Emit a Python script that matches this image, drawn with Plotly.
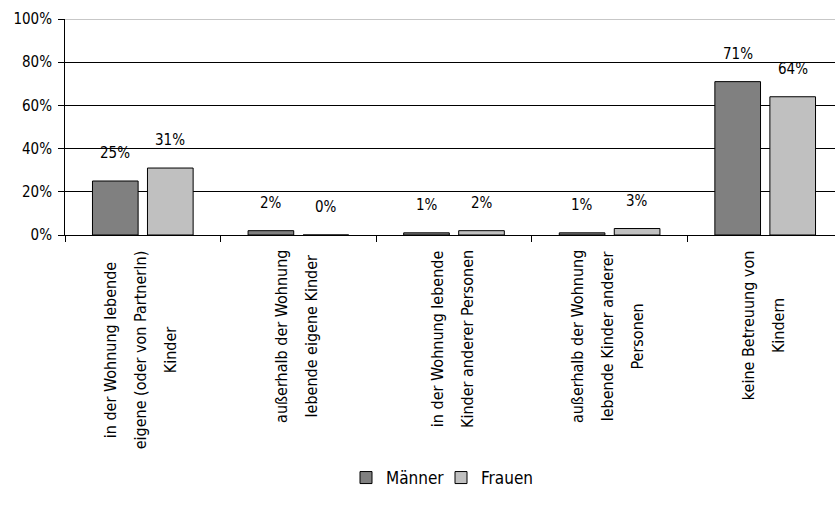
import plotly.graph_objects as go

categories = [
    "in der Wohnung lebende<br>eigene (oder von PartnerIn)<br>Kinder",
    "außerhalb der Wohnung<br>lebende eigene Kinder",
    "in der Wohnung lebende<br>Kinder anderer Personen",
    "außerhalb der Wohnung<br>lebende Kinder anderer<br>Personen",
    "keine Betreuung von<br>Kindern",
]
maenner = [25, 2, 1, 1, 71]
frauen = [31, 0, 2, 3, 64]
y_ticks = [0, 20, 40, 60, 80, 100]

FONT = "DejaVu Sans Condensed"
W, H = 835, 515
L, T, B = 65, 19, 280
cat_px = 155.6
plot_h = H - T - B

fig = go.Figure()
fig.add_trace(go.Bar(name="Männer", x=categories, y=maenner,
                     marker=dict(color="#808080", line=dict(color="#000000", width=1))))
fig.add_trace(go.Bar(name="Frauen", x=categories, y=frauen,
                     marker=dict(color="#C0C0C0", line=dict(color="#000000", width=1))))

annotations = []
for series, shift in ((maenner, -27.5), (frauen, 27.5)):
    for c, v in zip(categories, series):
        annotations.append(dict(x=c, y=v, xref="x", yref="y", text=f"{v}%",
                                showarrow=False, xshift=shift, yshift=28,
                                yanchor="middle", xanchor="center",
                                font=dict(family=FONT, size=15, color="#000")))
for c in categories:
    styled = "<br>".join(f"<span style='font-size:16px'>{ln}</span>" for ln in c.split("<br>"))
    annotations.append(dict(x=c, y=-13 / plot_h, xref="x", yref="paper", text=styled,
                            showarrow=False, textangle=-90, yanchor="top",
                            xanchor="center", align="center", xshift=-2,
                            font=dict(family=FONT, size=23, color="#000")))

x_end = -0.5 + (W - L) / cat_px
fig.update_layout(
    width=W, height=H,
    margin=dict(l=L, r=0, t=T, b=B, pad=0),
    paper_bgcolor="white", plot_bgcolor="white",
    barmode="group", bargap=0.293, bargroupgap=0.17,
    font=dict(family=FONT, size=15, color="#000"),
    showlegend=True,
    legend=dict(orientation="h", x=(346 - L) / (W - L), xanchor="left",
                y=(T + plot_h - 478) / plot_h, yanchor="middle",
                font=dict(family=FONT, size=17, color="#000"),
                itemwidth=30, entrywidth=50, entrywidthmode="pixels",
                traceorder="normal"),
    annotations=annotations,
    shapes=[dict(type="line", xref="paper", x0=0, x1=1, yref="y", y0=100, y1=100,
                 line=dict(color="#909090", width=1), layer="above")],
    xaxis=dict(range=[-0.5, x_end], showticklabels=False, ticks="outside",
               tickson="boundaries", ticklen=6, tickcolor="#000",
               showline=True, linecolor="#000", linewidth=1, showgrid=False,
               zeroline=False),
    yaxis=dict(range=[0, 100], tickvals=y_ticks, ticktext=[f"{t}%" for t in y_ticks],
               ticks="outside", ticklen=6, tickcolor="#000", ticklabelstandoff=3,
               showline=True, linecolor="#000", linewidth=1,
               showgrid=True, gridcolor="#000", gridwidth=1, zeroline=False,
               tickfont=dict(family=FONT, size=15, color="#000")),
)
fig.write_html("out.html")
